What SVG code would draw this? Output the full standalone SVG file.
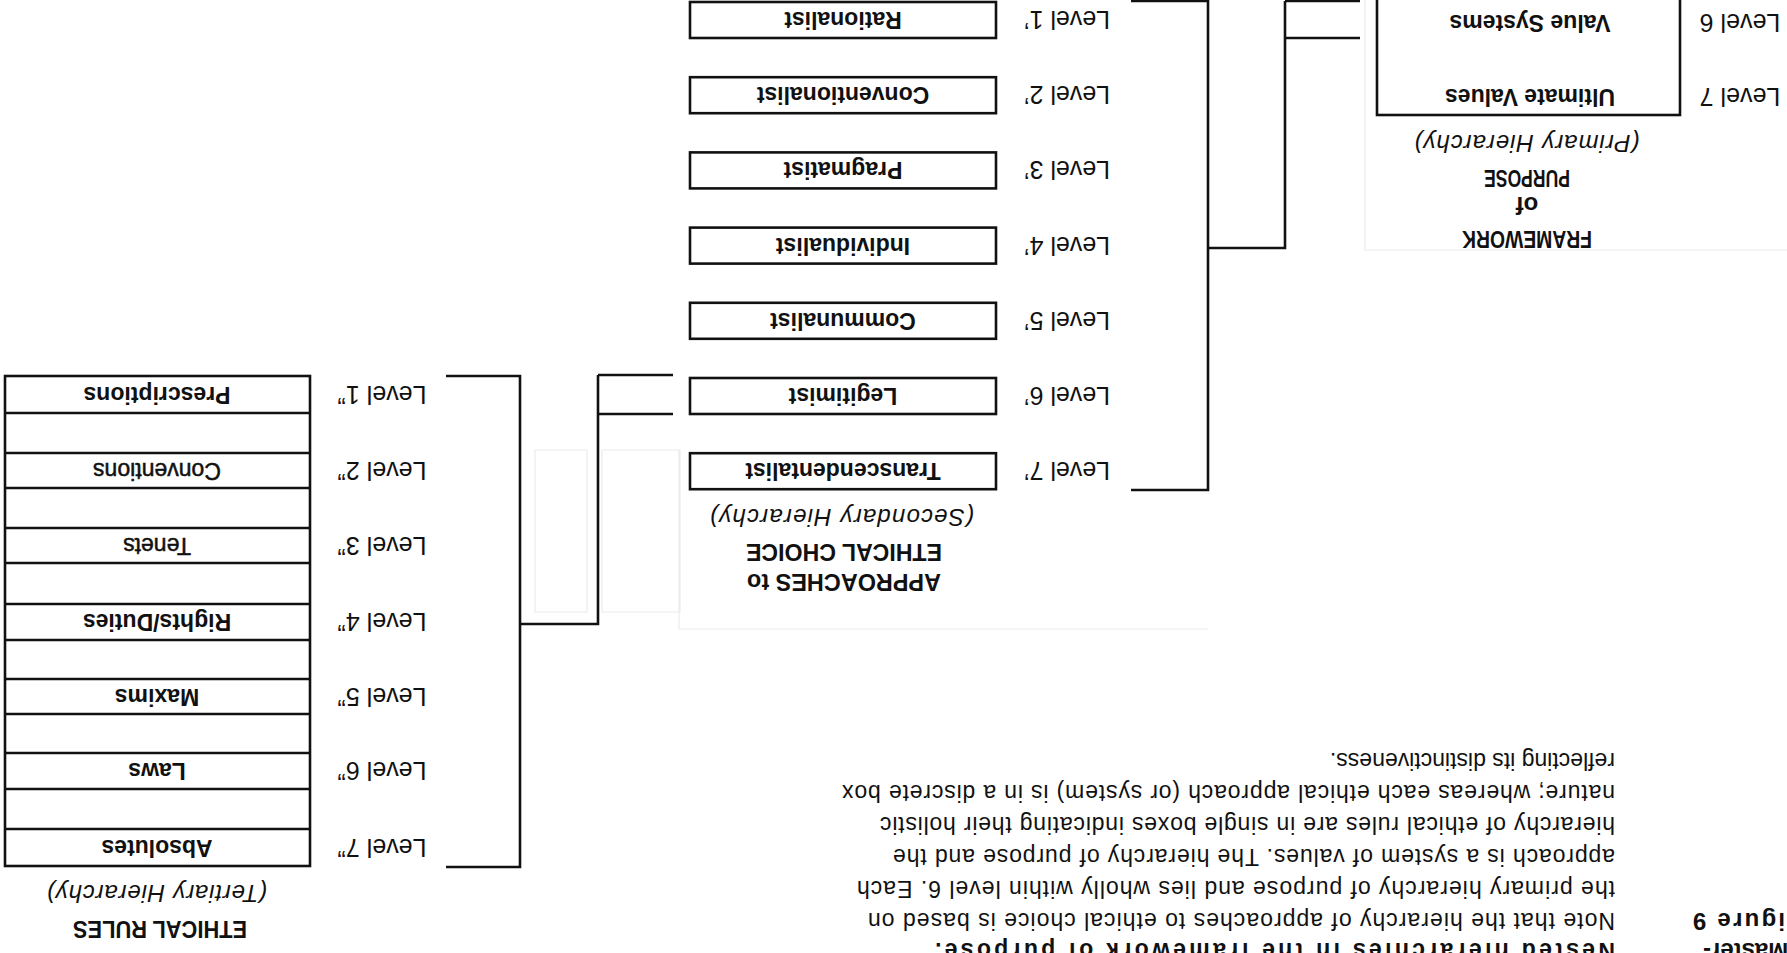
<svg xmlns="http://www.w3.org/2000/svg" width="1787" height="953" viewBox="0 0 1787 953">
<style>
text{font-family:"Liberation Sans",Arial,sans-serif;fill:#111;}
.lab{font-size:23px;font-weight:bold;text-anchor:middle;dominant-baseline:central;}
.med{font-size:23px;font-weight:normal;stroke:#111;stroke-width:0.5;text-anchor:middle;dominant-baseline:central;}
.lvl{font-size:25px;text-anchor:middle;dominant-baseline:central;}
.hd{font-size:24px;font-weight:bold;text-anchor:middle;dominant-baseline:central;}
.it{font-size:24px;font-style:italic;text-anchor:middle;dominant-baseline:central;}
.para{font-size:23px;}
.box{fill:#fff;stroke:#111;stroke-width:2.6;}
.ln{fill:none;stroke:#111;stroke-width:2.6;}
.faint{fill:none;stroke:#ececec;stroke-width:1.2;}
</style>
<rect width="1787" height="953" fill="#fff"/>
<g transform="rotate(180 893.5 476.5)">
<g id="faint">
<path class="faint" d="M422 953V703H0M579 324H1108V503M1200 341H1252V503H1200ZM1107 341H1185V503H1107Z"/>
</g>
<g id="connectors">
<path class="ln" d="M427 952H502M427 915H502M502 952V705H579"/>
<path class="ln" d="M656 952H579V463H656"/>
<path class="ln" d="M1114 578H1189M1114 539H1189M1189 578V329H1267"/>
<path class="ln" d="M1341 577H1267V86H1341"/>
</g>
<g id="primary">
<rect class="box" x="107" y="838" width="303" height="130"/>
<text class="lab" x="257" y="856">Ultimate Values</text>
<text class="lab" x="257" y="930">Value Systems</text>
<text class="lvl" x="47" y="856">Level 7</text>
<text class="lvl" x="47" y="930">Level 6</text>
<text class="hd" x="260" y="714" textLength="130" lengthAdjust="spacingAndGlyphs">FRAMEWORK</text>
<text class="hd" x="260" y="748">of</text>
<text class="hd" x="260" y="775" textLength="86" lengthAdjust="spacingAndGlyphs">PURPOSE</text>
<text class="it" x="260" y="810" textLength="225">(Primary Hierarchy)</text>
</g>
<g id="secondary">
<g id="s7"><rect class="box" x="791" y="463.8" width="306" height="36"/><text class="lab" x="944" y="481.8">Transcendentalist</text><text class="lvl" x="720" y="481.8">Level 7’</text></g>
<g id="s6"><rect class="box" x="791" y="539" width="306" height="36"/><text class="lab" x="944" y="557">Legitimist</text><text class="lvl" x="720" y="557">Level 6’</text></g>
<g id="s5"><rect class="box" x="791" y="614.2" width="306" height="36"/><text class="lab" x="944" y="632.2">Communalist</text><text class="lvl" x="720" y="632.2">Level 5’</text></g>
<g id="s4"><rect class="box" x="791" y="689.4" width="306" height="36"/><text class="lab" x="944" y="707.4">Individualist</text><text class="lvl" x="720" y="707.4">Level 4’</text></g>
<g id="s3"><rect class="box" x="791" y="764.6" width="306" height="36"/><text class="lab" x="944" y="782.6">Pragmatist</text><text class="lvl" x="720" y="782.6">Level 3’</text></g>
<g id="s2"><rect class="box" x="791" y="839.8" width="306" height="36"/><text class="lab" x="944" y="857.8">Conventionalist</text><text class="lvl" x="720" y="857.8">Level 2’</text></g>
<g id="s1"><rect class="box" x="791" y="915" width="306" height="36"/><text class="lab" x="944" y="933">Rationalist</text><text class="lvl" x="720" y="933">Level 1’</text></g>
<text class="hd" x="943" y="371" textLength="194" lengthAdjust="spacingAndGlyphs">APPROACHES to</text>
<text class="hd" x="943" y="401" textLength="196" lengthAdjust="spacingAndGlyphs">ETHICAL CHOICE</text>
<text class="it" x="945" y="436" textLength="264">(Secondary Hierarchy)</text>
</g>
<g id="tertiary">
<rect class="box" x="1477" y="87" width="305" height="490"/>
<path class="ln" d="M1477 124H1782M1477 164H1782M1477 200H1782M1477 239H1782M1477 274H1782M1477 313H1782M1477 349H1782M1477 390H1782M1477 425H1782M1477 465H1782M1477 500H1782M1477 540H1782"/>
<text class="lab" x="1630" y="105.5">Absolutes</text>
<text class="lab" x="1630" y="182">Laws</text>
<text class="lab" x="1630" y="256.5">Maxims</text>
<text class="lab" x="1630" y="331">Rights/Duties</text>
<text class="med" x="1630" y="407.5">Tenets</text>
<text class="med" x="1630" y="482.5">Conventions</text>
<text class="lab" x="1630" y="558.5">Prescriptions</text>
<text class="lvl" x="1405" y="105.5">Level 7”</text>
<text class="lvl" x="1405" y="182">Level 6”</text>
<text class="lvl" x="1405" y="256.5">Level 5”</text>
<text class="lvl" x="1405" y="331">Level 4”</text>
<text class="lvl" x="1405" y="407.5">Level 3”</text>
<text class="lvl" x="1405" y="482.5">Level 2”</text>
<text class="lvl" x="1405" y="558.5">Level 1”</text>
<text class="hd" x="1627" y="24" textLength="174" lengthAdjust="spacingAndGlyphs">ETHICAL RULES</text>
<text class="it" x="1630" y="60" textLength="220">(Tertiary Hierarchy)</text>
</g>
<g id="caption">
<text x="84" y="10" style="font-size:24px;font-weight:bold;text-anchor:end">Master-</text>
<text x="94" y="40" style="font-size:24px;font-weight:bold;text-anchor:end" textLength="109">Figure 9</text>
<text class="para" x="172" y="10" style="font-weight:bold" textLength="680">Nested hierarchies in the framework of purpose.</text>
<text class="para" x="172" y="40" textLength="747">Note that the hierarchy of approaches to ethical choice is based on</text>
<text class="para" x="172" y="72" textLength="758">the primary hierarchy of purpose and lies wholly within level 6. Each</text>
<text class="para" x="172" y="104" textLength="722">approach is a system of values. The hierarchy of purpose and the</text>
<text class="para" x="172" y="136" textLength="735">hierarchy of ethical rules are in single boxes indicating their holistic</text>
<text class="para" x="172" y="168" textLength="773">nature; whereas each ethical approach (or system) is in a discrete box</text>
<text class="para" x="172" y="200">reflecting its distinctiveness.</text>
</g>
</g>
</svg>
